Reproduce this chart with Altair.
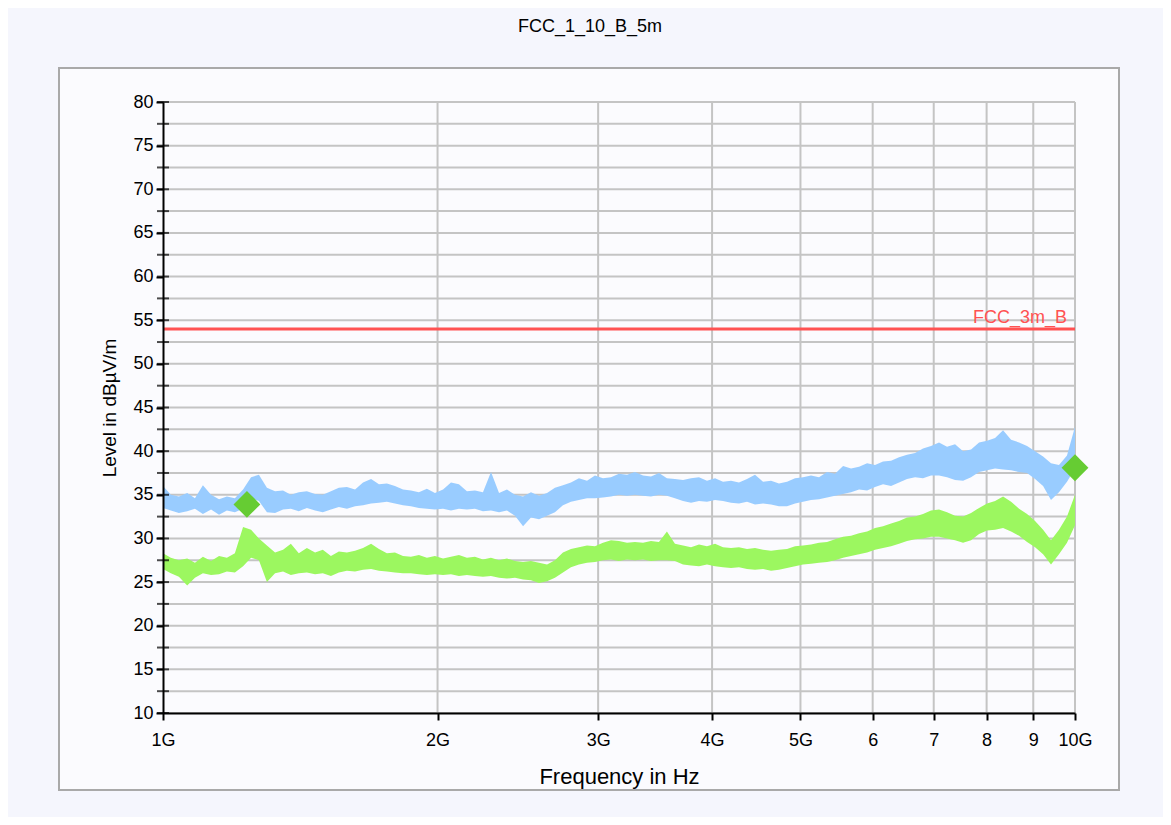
import altair as alt
import pandas as pd

# ---------------- data ----------------
FREQ_GHZ = [
    1.000, 1.020, 1.041, 1.063, 1.084, 1.106, 1.129, 1.152, 1.175, 1.199,
    1.224, 1.249, 1.274, 1.300, 1.327, 1.354, 1.381, 1.409, 1.438, 1.468,
    1.497, 1.528, 1.559, 1.591, 1.624, 1.657, 1.691, 1.725, 1.760, 1.796,
    1.833, 1.870, 1.908, 1.947, 1.987, 2.028, 2.069, 2.111, 2.154, 2.198,
    2.243, 2.289, 2.336, 2.383, 2.432, 2.482, 2.532, 2.584, 2.637, 2.690,
    2.745, 2.801, 2.858, 2.917, 2.976, 3.037, 3.099, 3.162, 3.227, 3.292,
    3.360, 3.428, 3.498, 3.569, 3.642, 3.717, 3.793, 3.870, 3.949, 4.030,
    4.112, 4.196, 4.281, 4.369, 4.458, 4.549, 4.642, 4.736, 4.833, 4.932,
    5.033, 5.135, 5.240, 5.347, 5.456, 5.568, 5.681, 5.797, 5.916, 6.036,
    6.159, 6.285, 6.413, 6.544, 6.678, 6.813, 6.952, 7.094, 7.239, 7.387,
    7.538, 7.692, 7.849, 8.009, 8.173, 8.339, 8.510, 8.683, 8.860, 9.041,
    9.226, 9.412, 9.604, 9.800, 10.000,
]

# Peak trace (light blue): lower / upper edge of the noisy band, dBuV/m
PK_LO = [
    33.5, 33.2, 32.9, 33.1, 33.4, 32.8, 33.3, 32.7, 33.2, 33.0,
    33.4, 34.6, 34.3, 33.0, 32.9, 33.3, 33.4, 33.1, 33.5, 33.2,
    33.0, 33.3, 33.6, 33.4, 33.7, 33.8, 34.0, 34.1, 34.2, 34.0,
    33.8, 33.7, 33.5, 33.4, 33.3, 33.4, 33.2, 33.4, 33.3, 33.4,
    33.1, 33.2, 33.0, 33.2, 32.6, 31.4, 32.4, 32.2, 32.6, 33.0,
    33.8, 34.2, 34.4, 34.6, 34.6, 34.7, 34.8, 35.0, 34.9, 35.0,
    34.9, 34.8, 35.0, 34.9, 34.6, 34.3, 34.1, 34.3, 34.2, 34.4,
    34.3, 34.1, 34.0, 34.2, 33.9, 34.0, 33.9, 33.7, 33.7, 34.0,
    34.2, 34.4, 34.5, 34.7, 34.9, 35.1, 35.3, 35.6, 35.5, 35.9,
    36.2, 36.0, 36.4, 36.8, 37.0, 36.9, 37.2, 37.2, 37.0, 36.7,
    36.6, 37.0, 37.6, 37.8, 38.0, 37.9, 37.8, 37.6, 37.5, 36.8,
    36.0, 34.4, 35.3, 36.5, 38.0,
]
PK_HI = [
    36.0, 35.0, 34.8, 35.2, 34.6, 36.1, 35.0, 34.5, 34.8, 34.6,
    35.6, 37.0, 37.3, 35.8, 35.4, 35.5, 35.0, 35.3, 35.4, 35.1,
    35.0, 35.4, 35.8, 35.9, 35.6, 36.4, 36.8, 36.2, 36.3, 36.0,
    35.6, 35.5, 35.3, 35.7, 35.2, 35.6, 36.4, 36.2, 35.4, 35.5,
    35.3, 37.6, 35.2, 35.6, 35.0, 34.8, 35.3, 34.9, 35.2, 35.8,
    36.1, 36.4, 36.9, 36.6, 37.2, 36.9, 37.0, 37.4, 37.3, 37.6,
    37.2, 37.1, 37.5, 36.9, 36.8, 36.7, 36.9, 37.0, 36.6, 36.9,
    36.5, 36.6, 36.4, 36.8, 37.3, 36.5, 36.6, 36.3, 36.5, 36.9,
    37.0, 37.2, 37.0, 37.6, 37.4, 38.3, 38.0, 38.2, 38.6, 38.4,
    38.8, 38.9, 39.3, 39.6, 39.8, 40.3, 40.6, 41.0, 40.5, 40.8,
    40.0, 40.2, 41.0, 41.2, 41.5, 42.4, 41.3, 41.0, 40.6, 40.0,
    39.4, 38.6, 38.4, 39.5, 42.8,
]

# Average trace (light green): lower / upper edge of the noisy band
AV_LO = [
    26.5, 26.0, 25.6, 24.6, 25.5, 26.0, 25.8, 25.9, 26.2, 26.1,
    26.8, 27.8, 27.5, 25.0, 26.0, 26.2, 25.8, 26.0, 26.1, 25.9,
    26.0, 25.7, 26.1, 26.3, 26.2, 26.4, 26.5, 26.3, 26.2, 26.1,
    26.0, 26.0, 25.9, 25.8, 25.9, 25.8, 25.9, 25.7, 25.8, 25.7,
    25.6, 25.7, 25.5, 25.4, 25.5, 25.3, 25.2, 24.9, 25.1, 25.5,
    26.1, 26.7, 27.0, 27.2, 27.3, 27.5, 27.6, 27.4, 27.6, 27.5,
    27.6, 27.4, 27.5, 27.5, 27.4, 27.0, 26.9, 26.8, 27.0, 26.8,
    26.7, 26.6, 26.7, 26.5, 26.4, 26.5, 26.3, 26.4, 26.6, 26.8,
    27.0, 27.1, 27.2, 27.3, 27.5, 27.8, 28.0, 28.2, 28.4, 28.7,
    28.9, 29.1, 29.4, 29.7, 29.9, 30.0, 30.2, 30.2, 30.0, 29.8,
    29.5, 29.8, 30.5, 30.9, 31.0, 31.2, 30.8, 30.3, 29.6, 29.0,
    28.2, 27.0, 28.2, 29.5, 31.5,
]
AV_HI = [
    28.3, 27.8, 27.5, 27.7, 27.2, 27.9, 27.4, 28.0, 27.8, 28.3,
    31.3, 31.0, 30.0, 29.2, 28.4, 28.7, 29.4, 28.3, 28.9, 28.4,
    28.7, 28.0, 28.5, 28.4, 28.6, 28.9, 29.4, 28.8, 28.3, 28.4,
    28.0, 27.9, 28.1, 27.8, 28.0, 27.7, 27.9, 28.1, 27.8, 27.9,
    27.6, 27.8, 27.5, 27.7, 27.4, 27.3, 27.4, 27.2, 27.0, 27.5,
    28.4, 28.8, 29.0, 29.2, 29.1, 29.5, 29.8, 29.7, 29.5, 29.6,
    29.5, 29.7, 29.6, 30.8, 29.4, 29.2, 29.0, 29.3, 29.1, 29.4,
    29.0, 28.9, 29.0, 28.8, 28.9, 28.7, 28.6, 28.7, 28.8, 29.1,
    29.2, 29.3, 29.5, 29.6, 29.9, 30.2, 30.3, 30.6, 30.8, 31.2,
    31.4, 31.7, 32.0, 32.4, 32.5, 32.8, 33.2, 33.3, 33.0, 32.6,
    32.5, 32.9, 33.5, 34.0, 34.3, 34.8, 34.2, 33.4, 32.8, 32.0,
    31.0, 29.8, 31.0, 32.5, 35.0,
]

# Final measurement markers (green diamonds)
MARK_F = [1.236, 10.0]
MARK_L = [33.9, 38.1]

# Limit line
LIMIT_NAME = "FCC_3m_B"
LIMIT_F = [1.0, 10.0]
LIMIT_L = [54.0, 54.0]

TITLE = "FCC_1_10_B_5m"
X_TICKS = [1, 2, 3, 4, 5, 6, 7, 8, 9, 10]
Y_LABELS = [10, 15, 20, 25, 30, 35, 40, 45, 50, 55, 60, 65, 70, 75, 80]
Y_GRID = [10 + 2.5 * i for i in range(29)]
X_GRID = [2, 3, 4, 5, 6, 7, 8, 9, 10]

FONT = "Liberation Sans"
W, H = 912, 611

trace = pd.DataFrame({"f": FREQ_GHZ, "pk_lo": PK_LO, "pk_hi": PK_HI,
                      "av_lo": AV_LO, "av_hi": AV_HI})
marks = pd.DataFrame({"f": MARK_F, "level": MARK_L})
limit = pd.DataFrame({"f": LIMIT_F, "level": LIMIT_L})
hgrid = pd.DataFrame({"level": Y_GRID})
vgrid = pd.DataFrame({"f": X_GRID})

xscale = alt.Scale(type="log", domain=[1, 10], nice=False)
yscale = alt.Scale(domain=[10, 80], nice=False, zero=False)

x_axis = alt.Axis(
    values=X_TICKS, grid=False, zindex=1,
    labelExpr="(datum.value <= 5 || datum.value == 10) ? datum.value + 'G' : '' + datum.value",
    labelFont=FONT, labelFontSize=18, labelColor="black", labelPadding=11,
    labelFlush=False, labelOverlap=False,
    tickSize=7, tickWidth=2, tickColor="black",
    domainColor="black", domainWidth=2,
    title="Frequency in Hz", titleFont=FONT, titleFontSize=22,
    titleFontWeight="normal", titleColor="black", titlePadding=17,
)
y_axis = alt.Axis(
    values=Y_LABELS, grid=False, zindex=1,
    labelFont=FONT, labelFontSize=18, labelColor="black", labelPadding=3,
    labelFlush=False, labelOverlap=False,
    tickSize=7, tickWidth=2, tickColor="black",
    domainColor="black", domainWidth=2,
    title="Level in dBµV/m", titleFont=FONT, titleFontSize=19,
    titleFontWeight="normal", titleColor="black", titlePadding=13,
)

# panel frame (decoration behind the plot)
frame = alt.Chart(alt.Data(values=[{}])).mark_rect(
    fill="#fbfbfe", stroke="#a9a9a9", strokeWidth=2
).encode(x=alt.value(-104), x2=alt.value(956), y=alt.value(-34), y2=alt.value(688))

grid_h = alt.Chart(hgrid).mark_rule(color="#c4c4c4", strokeWidth=2).encode(
    y=alt.Y("level:Q", scale=yscale, axis=y_axis),
    x=alt.value(0), x2=alt.value(W),
)
grid_v = alt.Chart(vgrid).mark_rule(color="#c4c4c4", strokeWidth=2).encode(
    x=alt.X("f:Q", scale=xscale, axis=x_axis),
    y=alt.value(0), y2=alt.value(H),
)

pk = alt.Chart(trace).mark_area(color="#99ccff", opacity=1).encode(
    x=alt.X("f:Q", scale=xscale, axis=x_axis),
    y=alt.Y("pk_lo:Q", scale=yscale, axis=y_axis),
    y2="pk_hi:Q",
)
av = alt.Chart(trace).mark_area(color="#9cf760", opacity=1).encode(
    x=alt.X("f:Q", scale=xscale, axis=x_axis),
    y=alt.Y("av_lo:Q", scale=yscale, axis=y_axis),
    y2="av_hi:Q",
)

lim = alt.Chart(limit).mark_line(color="#ff5252", strokeWidth=3).encode(
    x=alt.X("f:Q", scale=xscale, axis=x_axis),
    y=alt.Y("level:Q", scale=yscale, axis=y_axis),
)
lim_text = alt.Chart(limit.iloc[[1]]).mark_text(
    text=LIMIT_NAME, color="#ff5252", font=FONT, fontSize=18,
    align="right", baseline="alphabetic", dx=-8, dy=-6,
).encode(
    x=alt.X("f:Q", scale=xscale, axis=x_axis),
    y=alt.Y("level:Q", scale=yscale, axis=y_axis),
)

yticks = alt.Chart(hgrid).mark_tick(color="black", thickness=2, size=12, orient="horizontal").encode(
    y=alt.Y("level:Q", scale=yscale, axis=y_axis),
    x=alt.value(0),
)

diam = alt.Chart(marks).mark_point(
    shape="diamond", filled=True, size=720, color="#66cc33", opacity=1
).encode(
    x=alt.X("f:Q", scale=xscale, axis=x_axis),
    y=alt.Y("level:Q", scale=yscale, axis=y_axis),
)

title = alt.Chart(alt.Data(values=[{}])).mark_text(
    text=TITLE, font=FONT, fontSize=18, color="black", align="center", baseline="alphabetic"
).encode(x=alt.value(427), y=alt.value(-70))

chart = alt.layer(
    frame, grid_h, grid_v, pk, av, lim, lim_text, yticks, diam, title
).properties(
    width=W, height=H,
    autosize=alt.AutoSizeParams(type="none"),
    padding={"left": 155, "top": 94, "right": 88, "bottom": 104},
    background="#f5f6fd",
).configure_view(stroke=None, fill=None)

chart.save("out.html", embed_options={"renderer": "svg", "actions": False})
